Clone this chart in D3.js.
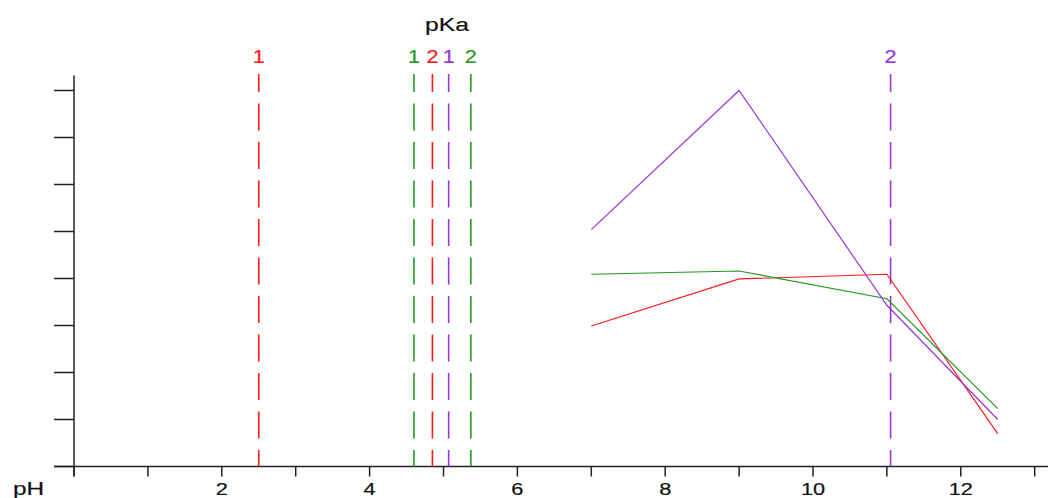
<!DOCTYPE html>
<html>
<head>
<meta charset="utf-8">
<script src="https://cdn.jsdelivr.net/npm/d3@7"></script>
<style>
  html, body { margin: 0; padding: 0; background: #fff; }
  svg { display: block; }
  text { font-family: "Liberation Sans", Arial, sans-serif; }
</style>
</head>
<body>
<svg id="chart" width="1048" height="498"></svg>
<script>
// ---- data ----
const phValues = [7, 9, 11, 12.5];
const seriesNames = ["red", "green", "purple"];
const seriesColors = ["#ff1a1a", "#229922", "#9a35d8"];
const redValues = [2.99, 3.99, 4.09, 0.70];
const greenValues = [4.09, 4.16, 3.57, 1.23];
const purpleValues = [5.04, 8.0, 3.43, 1.0];
const pkaValues = [2.50, 4.85, 4.60, 5.37, 5.07, 11.05];
const pkaLabels = ["1", "2", "1", "2", "1", "2"];
const pkaSeries = [0, 0, 1, 1, 2, 2];
const xTicks = [0, 1, 2, 3, 4, 5, 6, 7, 8, 9, 10, 11, 12, 13];
const xTickLabels = ["", "", "2", "", "4", "", "6", "", "8", "", "10", "", "12", ""];
const yTicks = [0, 1, 2, 3, 4, 5, 6, 7, 8];

const svg = d3.select("#chart");
const x = d3.scaleLinear().domain([0, 13]).range([74, 74 + 13 * 73.9]);
const y = d3.scaleLinear().domain([0, 8]).range([466.5, 90.5]);
const yTop = 8.32;

// stretched text helper (reference glyphs are horizontally widened)
function sText(g, px, py, str, size, fill, sx, anchor) {
  return g.append("text")
    .attr("transform", `translate(${px},${py}) scale(${sx},1)`)
    .attr("text-anchor", anchor || "middle")
    .attr("font-size", size)
    .attr("fill", fill)
    .attr("stroke", fill)
    .attr("stroke-width", 0.2)
    .text(str);
}

// ---- axes ----
const axisG = svg.append("g");
axisG.append("line")
  .attr("x1", x(0) - 20).attr("x2", 1048)
  .attr("y1", y(0)).attr("y2", y(0))
  .attr("stroke", "#222").attr("stroke-width", 1.5);
axisG.append("line")
  .attr("x1", x(0)).attr("x2", x(0))
  .attr("y1", y(yTop)).attr("y2", y(0) + 10)
  .attr("stroke", "#222").attr("stroke-width", 1.5);
axisG.selectAll(".xt").data(xTicks).enter().append("line")
  .attr("x1", d => x(d)).attr("x2", d => x(d))
  .attr("y1", y(0)).attr("y2", y(0) + 10)
  .attr("stroke", "#222").attr("stroke-width", 1.5);
xTicks.forEach((d, i) => {
  if (xTickLabels[i]) sText(axisG, x(d), 495, xTickLabels[i], 17, "#111", 1.28);
});
axisG.selectAll(".yt").data(yTicks).enter().append("line")
  .attr("x1", x(0) - 20).attr("x2", x(0))
  .attr("y1", d => y(d)).attr("y2", d => y(d))
  .attr("stroke", "#222").attr("stroke-width", 1.5);

sText(svg, 13, 495, "pH", 18.5, "#111", 1.32, "start");
sText(svg, 447, 31, "pKa", 19, "#111", 1.3);

// ---- pKa dashed lines ----
const pkaG = svg.append("g");
pkaG.selectAll("line").data(pkaValues).enter().append("line")
  .attr("x1", d => x(d)).attr("x2", d => x(d))
  .attr("y1", 74).attr("y2", y(0))
  .attr("stroke", (d, i) => seriesColors[pkaSeries[i]])
  .attr("stroke-width", 1.6)
  .attr("stroke-dasharray", "27,11.5")
  .attr("stroke-dashoffset", 9);
pkaValues.forEach((d, i) => {
  sText(pkaG, x(d), 63, pkaLabels[i], 18, seriesColors[pkaSeries[i]], 1.2);
});

// ---- series lines ----
const allValues = [redValues, greenValues, purpleValues];
const line = d3.line().x(d => x(d[0])).y(d => y(d[1]));
allValues.forEach((vals, si) => {
  svg.append("path")
    .datum(phValues.map((p, i) => [p, vals[i]]))
    .attr("d", line)
    .attr("fill", "none")
    .attr("stroke", seriesColors[si])
    .attr("stroke-width", 1.2);
});
</script>
</body>
</html>
